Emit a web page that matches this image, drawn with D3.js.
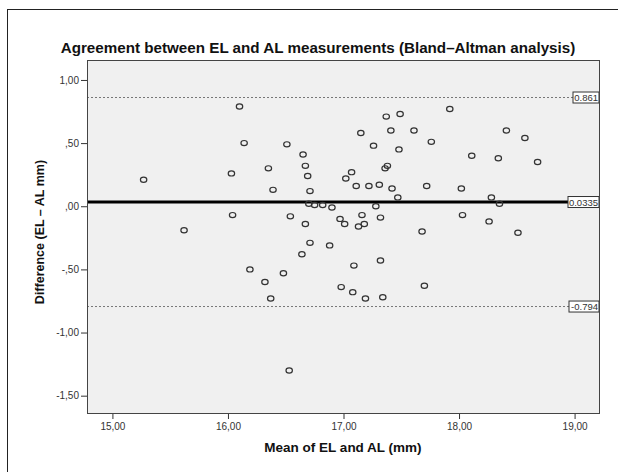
<!DOCTYPE html>
<html>
<head>
<meta charset="utf-8">
<script src="https://cdn.jsdelivr.net/npm/d3@7"></script>
<style>
  body { margin: 0; background: #fff; }
  svg { display: block; font-family: "Liberation Sans", Arial, sans-serif; }
</style>
</head>
<body>
<div id="chart"></div>
<script>
// mean of EL and AL (mm)
const meanVals = [
  15.27, 16.10, 16.14, 16.51, 16.65, 16.67, 16.69, 16.35, 16.03, 16.39,
  16.71, 17.15, 17.26, 17.07, 17.02, 17.11, 17.22, 17.31, 16.70, 16.75,
  16.82, 16.90, 17.28, 16.04, 16.54, 16.67, 16.97, 17.01, 17.16, 17.18,
  17.13, 17.32, 15.62, 16.71, 16.88, 17.37, 17.49, 17.92, 17.41, 17.61,
  18.41, 18.57, 17.48, 17.76, 18.11, 18.34, 18.68, 17.38, 17.36, 17.42,
  17.72, 18.02, 17.47, 18.28, 18.35, 18.03, 18.26, 17.68, 18.51, 16.64,
  16.19, 16.48, 16.32, 16.37, 17.09, 16.98, 17.08, 17.19, 17.32, 17.34,
  17.70, 16.53
];
// difference EL - AL (mm)
const diffVals = [
  0.21, 0.79, 0.50, 0.49, 0.41, 0.32, 0.24, 0.30, 0.26, 0.13,
  0.12, 0.58, 0.48, 0.27, 0.22, 0.16, 0.16, 0.17, 0.02, 0.01,
  0.01, -0.01, 0.00, -0.07, -0.08, -0.14, -0.10, -0.14, -0.07, -0.14,
  -0.16, -0.09, -0.19, -0.29, -0.31, 0.71, 0.73, 0.77, 0.60, 0.60,
  0.60, 0.54, 0.45, 0.51, 0.40, 0.38, 0.35, 0.32, 0.30, 0.14,
  0.16, 0.14, 0.07, 0.07, 0.02, -0.07, -0.12, -0.20, -0.21, -0.38,
  -0.50, -0.53, -0.60, -0.73, -0.47, -0.64, -0.68, -0.73, -0.43, -0.72,
  -0.63, -1.30
];
const refValues = [0.861, 0.0335, -0.794];
const refLabels = ["0.861", "0.0335", "-0.794"];
const xTicks = [15, 16, 17, 18, 19];
const xTickLabels = ["15,00", "16,00", "17,00", "18,00", "19,00"];
const yTicks = [1, 0.5, 0, -0.5, -1, -1.5];
const yTickLabels = ["1,00", ",50", ",00", "-,50", "-1,00", "-1,50"];

const width = 618, height = 472;
const plot = { left: 87, right: 600, top: 60, bottom: 414 };

const svg = d3.select("#chart").append("svg")
  .attr("width", width)
  .attr("height", height);

// outer frame
svg.append("rect")
  .attr("x", 7.5).attr("y", 9.5)
  .attr("width", 700).attr("height", 600)
  .attr("fill", "none").attr("stroke", "#222").attr("stroke-width", 1);

const x = d3.scaleLinear().domain([14.78, 19.22]).range([plot.left, plot.right]);
const y = d3.scaleLinear().domain([-1.645, 1.158]).range([plot.bottom, plot.top]);

// title
svg.append("text")
  .attr("x", 318).attr("y", 53)
  .attr("text-anchor", "middle")
  .attr("font-size", 15.2)
  .attr("font-weight", "bold")
  .attr("fill", "#111")
  .text("Agreement between EL and AL measurements (Bland\u2013Altman analysis)");

// plot background
svg.append("rect")
  .attr("x", plot.left).attr("y", plot.top)
  .attr("width", plot.right - plot.left)
  .attr("height", plot.bottom - plot.top)
  .attr("fill", "#f0f0f0");

// axes
const xAxis = svg.append("g")
  .attr("transform", `translate(0, ${plot.bottom})`)
  .call(d3.axisBottom(x).tickValues(xTicks).tickSize(5).tickPadding(4)
    .tickFormat((d, i) => xTickLabels[i]));
const yAxis = svg.append("g")
  .attr("transform", `translate(${plot.left}, 0)`)
  .call(d3.axisLeft(y).tickValues(yTicks).tickSize(6).tickPadding(2)
    .tickFormat((d, i) => yTickLabels[i]));
[xAxis, yAxis].forEach(g => {
  g.select(".domain").remove();
  g.selectAll("line").attr("stroke", "#333");
  g.selectAll("text").attr("fill", "#333").attr("font-size", 10)
    .attr("font-family", "'Liberation Sans', Arial, sans-serif");
});

// reference lines
const lineEnd = [573, 568, 569];
svg.append("g").selectAll("line")
  .data(refValues)
  .join("line")
  .attr("x1", plot.left)
  .attr("x2", (d, i) => lineEnd[i])
  .attr("y1", d => y(d)).attr("y2", d => y(d))
  .attr("stroke", (d, i) => i === 1 ? "#000" : "#777")
  .attr("stroke-width", (d, i) => i === 1 ? 2.8 : 1)
  .attr("stroke-dasharray", (d, i) => i === 1 ? null : "2,2");

// points
svg.append("g").selectAll("ellipse")
  .data(meanVals.map((m, i) => [m, diffVals[i]]))
  .join("ellipse")
  .attr("cx", d => x(d[0]))
  .attr("cy", d => y(d[1]))
  .attr("rx", 3.2).attr("ry", 2.6)
  .attr("fill", "none")
  .attr("stroke", "#333")
  .attr("stroke-width", 1.2);

// value labels
const labels = svg.append("g").selectAll("g")
  .data(refValues)
  .join("g")
  .attr("transform", (d, i) => `translate(${lineEnd[i]}, ${y(d)})`);
labels.append("rect")
  .attr("x", 0).attr("y", -5.5)
  .attr("width", (d, i) => 599 - lineEnd[i])
  .attr("height", 11)
  .attr("fill", "#fff")
  .attr("stroke", "#333");
labels.append("text")
  .attr("x", (d, i) => 598 - lineEnd[i])
  .attr("y", 3.5)
  .attr("text-anchor", "end")
  .attr("font-size", 9.5)
  .attr("fill", "#333")
  .text((d, i) => refLabels[i]);

// plot border
svg.append("rect")
  .attr("x", plot.left + 0.5).attr("y", plot.top + 0.5)
  .attr("width", plot.right - plot.left - 1)
  .attr("height", plot.bottom - plot.top - 1)
  .attr("fill", "none")
  .attr("stroke", "#444");

// axis titles
svg.append("text")
  .attr("x", 343).attr("y", 452)
  .attr("text-anchor", "middle")
  .attr("font-size", 13.5)
  .attr("font-weight", "bold")
  .attr("fill", "#111")
  .text("Mean of EL and AL (mm)");
svg.append("text")
  .attr("transform", "translate(44, 232) rotate(-90)")
  .attr("text-anchor", "middle")
  .attr("font-size", 12.5)
  .attr("font-weight", "bold")
  .attr("fill", "#111")
  .text("Difference (EL \u2013 AL mm)");
</script>
</body>
</html>
